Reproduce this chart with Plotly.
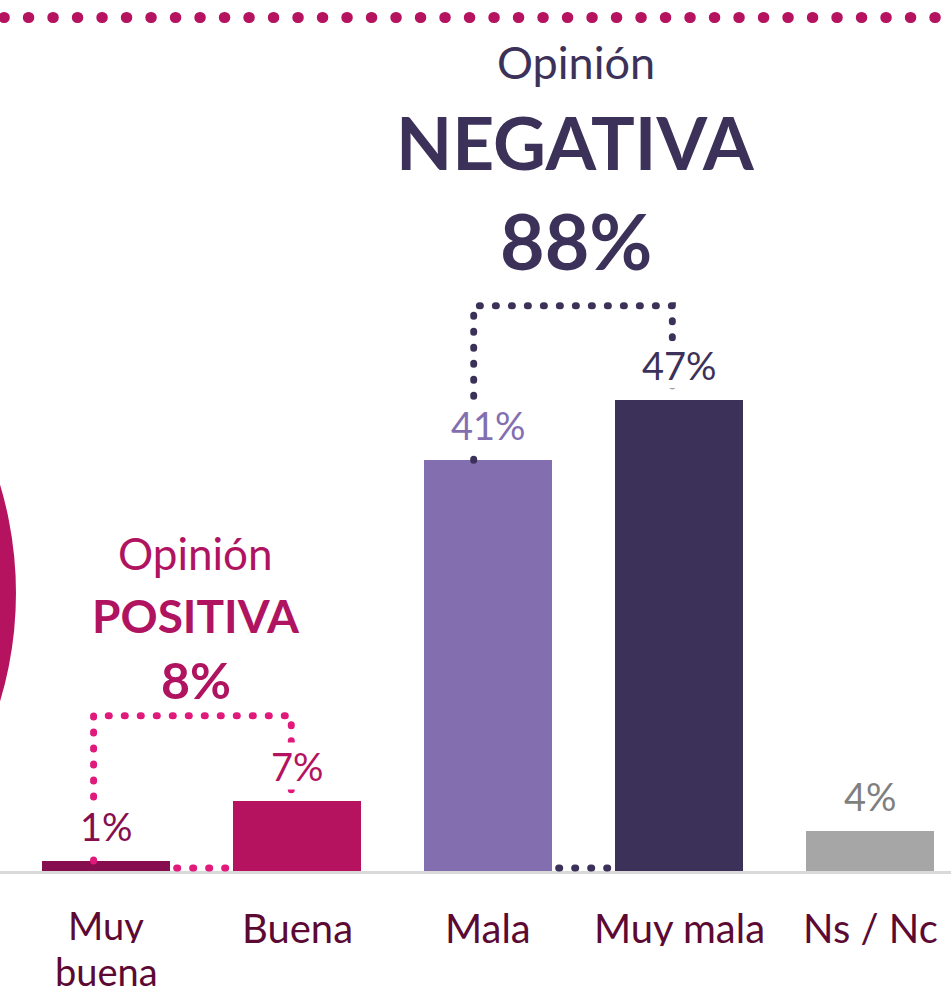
import plotly.graph_objects as go

# ---------------- data ----------------
categories = ["Muy buena", "Buena", "Mala", "Muy mala", "Ns / Nc"]
tick_labels = ["Muy<br>buena", "Buena", "Mala", "Muy mala", "Ns / Nc"]
values = [1, 7, 41, 47, 4]
value_labels = [f"{v}%" for v in values]
bar_colors = ["#870E4E", "#B5135F", "#836FB0", "#3C3259", "#A6A6A6"]
label_colors = ["#870E4E", "#B5135F", "#836FB0", "#3C3259", "#7F7F7F"]
positive_idx = [0, 1]
negative_idx = [2, 3]
positive_total = sum(values[i] for i in positive_idx)
negative_total = sum(values[i] for i in negative_idx)

FONT = "Lato, 'Open Sans', sans-serif"
POS_COLOR = "#B0135F"
POS_DOT = "#E0197B"
NEG_COLOR = "#3C3259"
AXIS_TXT = "#5C0A33"

xs = list(range(len(categories)))
BAR_W = 0.67

fig = go.Figure()
fig.add_trace(go.Bar(
    x=xs, y=values, width=BAR_W,
    marker=dict(color=bar_colors, line=dict(width=0)),
    hoverinfo="skip", showlegend=False,
))

shapes = []
annotations = []

# background decorations
shapes.append(dict(type="circle", xref="paper", yref="paper",
                   x0=-0.774, x1=0.0168, y0=0.026, y1=0.782,
                   fillcolor="#B5135F", line=dict(width=0), layer="below"))
shapes.append(dict(type="circle", xref="paper", yref="paper",
                   x0=-0.27, x1=0.02, y0=-0.37, y1=-0.05,
                   fillcolor="rgba(181,19,95,0.06)", line=dict(width=0), layer="below"))
# top dotted border
shapes.append(dict(type="line", xref="paper", yref="paper",
                   x0=0.004, x1=1.0, y0=0.9824, y1=0.9824,
                   line=dict(color="#B5135F", width=11, dash="0.5px,24px")))
# baseline
shapes.append(dict(type="line", xref="paper", yref="y", x0=0, x1=1, y0=-0.15, y1=-0.15,
                   line=dict(color="#D9D9D9", width=3), layer="above"))


def bracket(i, j, ytop, color, off_l, off_r):
    xl = xs[i] + off_l
    xr = xs[j] + off_r
    path = (f"M {xl},{values[i]} L {xl},{ytop} L {xr},{ytop} L {xr},{values[j]}")
    shapes.append(dict(type="path", xref="x", yref="y", path=path,
                       line=dict(color=color, width=7, dash="1px,15px")))
    # bottom connector between the two bars
    shapes.append(dict(type="line", xref="x", yref="y",
                       x0=xs[i] + BAR_W / 2 + 0.035, x1=xs[j] - BAR_W / 2 - 0.02,
                       y0=0.3, y1=0.3,
                       line=dict(color=color, width=7, dash="1px,15px")))


bracket(positive_idx[0], positive_idx[1], 15.5, POS_DOT, -0.065, -0.03)
bracket(negative_idx[0], negative_idx[1], 56.4, NEG_COLOR, -0.075, -0.035)

# value labels
for x, v, t, c in zip(xs, values, value_labels, label_colors):
    annotations.append(dict(x=x, y=v, xref="x", yref="y", text=t, showarrow=False,
                            yanchor="bottom", yshift=11, borderpad=0, bgcolor="white",
                            font=dict(family=FONT, size=38, color=c)))

# category labels (one annotation per text line)
for x, t in zip(xs, tick_labels):
    lines = t.split("<br>")
    multi = len(lines) > 1
    for k, line in enumerate(lines):
        annotations.append(dict(x=x, y=0, xref="x", yref="y", text=line, showarrow=False,
                                yanchor="top", yshift=(-35 - 46 * k) if multi else -38,
                                height=36, valign="middle", borderpad=0,
                                font=dict(family=FONT, size=38 if multi else 40,
                                          color=AXIS_TXT)))

# group titles
def title_block(cx, y_op, y_big, y_pct, big, pct, color, s_op, s_big, s_pct):
    annotations.append(dict(x=cx, y=y_op, xref="x", yref="y", text="Opinión", showarrow=False,
                            yanchor="middle", font=dict(family=FONT, size=s_op, color=color)))
    annotations.append(dict(x=cx, y=y_big, xref="x", yref="y", text=f"<b>{big}</b>", showarrow=False,
                            yanchor="middle", font=dict(family=FONT, size=s_big, color=color)))
    annotations.append(dict(x=cx, y=y_pct, xref="x", yref="y", text=f"<b>{pct}%</b>", showarrow=False,
                            yanchor="middle", font=dict(family=FONT, size=s_pct, color=color)))

pos_cx = sum(xs[i] for i in positive_idx) / 2 - 0.03
neg_cx = sum(xs[i] for i in negative_idx) / 2 - 0.04
title_block(pos_cx, 31.7, 25.5, 19.1, "POSITIVA", positive_total, POS_COLOR, 44, 46, 50)
title_block(neg_cx, 80.7, 72.7, 63.0, "NEGATIVA", negative_total, NEG_COLOR, 45, 73, 77)

fig.update_layout(
    width=951, height=995,
    margin=dict(l=0, r=0, t=0, b=0),
    paper_bgcolor="white", plot_bgcolor="white",
    xaxis=dict(range=[-0.555, 4.424], showgrid=False, zeroline=False,
               showticklabels=False, fixedrange=True),
    yaxis=dict(range=[-12.374, 86.917], showgrid=False, zeroline=False,
               showticklabels=False, fixedrange=True),
    shapes=shapes, annotations=annotations,
    bargap=0, showlegend=False,
)

post = """
document.body.style.margin = '0';
document.body.style.overflow = 'hidden';
var gd = document.getElementById('{plot_id}');
function rc(){
  var ps = gd.querySelectorAll('.shapelayer path');
  for (var k = 0; k < ps.length; k++) { ps[k].style.strokeLinecap = 'round'; }
}
rc(); setTimeout(rc, 50); setTimeout(rc, 300);
if (gd.on) { gd.on('plotly_afterplot', rc); }
"""

fig.write_html("out.html", post_script=post, config={"displayModeBar": False})
